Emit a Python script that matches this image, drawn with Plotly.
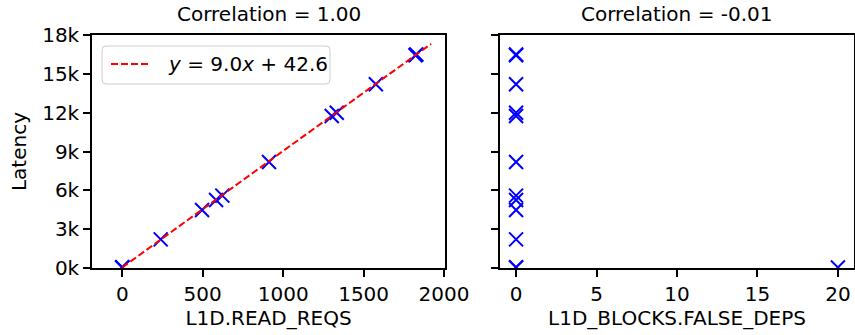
import plotly.graph_objects as go

# Event counts and measured latency for each run
read_reqs = [0, 0, 0, 239, 496, 583, 622, 912, 1302, 1333, 1576, 1822, 1828]
false_deps = [0, 0, 20, 0, 0, 0, 0, 0, 0, 0, 0, 0, 0]
latency = [40, 55, 45, 2210, 4480, 5250, 5590, 8190, 11740, 12000, 14190, 16440, 16490]

# Linear fit reported in the legend
slope = 9.0
intercept = 42.6
fit_x = [0, 1.05 * max(read_reqs)]
fit_y = [slope * v + intercept for v in fit_x]

y_ticks = [0, 3000, 6000, 9000, 12000, 15000, 18000]
y_labels = ["0k", "3k", "6k", "9k", "12k", "15k", "18k"]
x1_ticks = [0, 500, 1000, 1500, 2000]
x2_ticks = [0, 5, 10, 15, 20]

titles = ["Correlation = 1.00", "Correlation = -0.01"]

FONT = "DejaVu Sans"
BLUE = "#0000ff"
W, H = 855, 335
M = dict(l=92, r=1, t=35, b=67)
PW, PH = W - M["l"] - M["r"], H - M["t"] - M["b"]
DOM1 = [0, 0.4633]
DOM2 = [0.5354, 1]


def px_x(p):
    return (p - M["l"]) / PW


def px_y(p):
    return (H - M["b"] - p) / PH


fig = go.Figure()

marker = dict(symbol="x-thin", size=14, color=BLUE, line=dict(color=BLUE, width=2))
fit_line = dict(color="red", width=2, dash="7px,3px")

fig.add_trace(go.Scatter(x=read_reqs, y=latency, mode="markers", marker=marker,
                         showlegend=False, xaxis="x", yaxis="y"))
fig.add_trace(go.Scatter(x=fit_x, y=fit_y, mode="lines", line=fit_line,
                         showlegend=False, xaxis="x", yaxis="y"))
fig.add_trace(go.Scatter(x=false_deps, y=latency, mode="markers", marker=marker,
                         showlegend=False, xaxis="x2", yaxis="y2"))

axis_common = dict(showline=True, mirror=True, linecolor="black", linewidth=1.6,
                   ticks="outside", ticklen=7, tickwidth=1.6, tickcolor="black",
                   showgrid=False, zeroline=False, automargin=False,
                   tickfont=dict(family=FONT, size=20, color="black"))

fig.update_layout(
    width=W, height=H,
    margin=M,
    paper_bgcolor="white", plot_bgcolor="white",
    font=dict(family=FONT, size=20, color="black"),
    xaxis=dict(domain=DOM1, range=[-188, 2006], tickvals=x1_ticks,
               title=dict(text="L1D.READ_REQS", standoff=6,
                          font=dict(family=FONT, size=20)),
               anchor="y", **axis_common),
    xaxis2=dict(domain=DOM2, range=[-1, 21], tickvals=x2_ticks,
                title=dict(text="L1D_BLOCKS.FALSE_DEPS", standoff=6,
                           font=dict(family=FONT, size=20)),
                anchor="y2", **axis_common),
    yaxis=dict(range=[0, 18000], tickvals=y_ticks, ticktext=y_labels,
               title=dict(text="Latency", standoff=10, font=dict(family=FONT, size=20)),
               anchor="x", **axis_common),
    yaxis2=dict(range=[0, 18000], tickvals=y_ticks, showticklabels=False,
                anchor="x2", matches="y", **axis_common),
)

# Subplot titles
for txt, dom in zip(titles, [DOM1, DOM2]):
    fig.add_annotation(text=txt, x=(dom[0] + dom[1]) / 2, y=1, xref="paper", yref="paper",
                       xanchor="center", yanchor="bottom", yshift=7, showarrow=False,
                       font=dict(family=FONT, size=20, color="black"))

# Legend box for the fit line (rounded frame, dashed sample, label)
x0, x1, y0, y1, r = px_x(102), px_x(330), px_y(84), px_y(46), 4
rx, ry = r / PW, r / PH
path = (f"M {x0 + rx},{y0} L {x1 - rx},{y0} Q {x1},{y0} {x1},{y0 + ry} "
        f"L {x1},{y1 - ry} Q {x1},{y1} {x1 - rx},{y1} L {x0 + rx},{y1} "
        f"Q {x0},{y1} {x0},{y1 - ry} L {x0},{y0 + ry} Q {x0},{y0} {x0 + rx},{y0} Z")
fig.add_shape(type="path", path=path, xref="paper", yref="paper",
              fillcolor="rgba(255,255,255,0.8)", line=dict(color="#cccccc", width=1))
fig.add_shape(type="line", xref="paper", yref="paper",
              x0=px_x(111), x1=px_x(151), y0=px_y(64), y1=px_y(64), line=fit_line)
fig.add_annotation(text=f"<i>y</i> = {slope:.1f}<i>x</i> + {intercept:.1f}",
                   x=px_x(166), y=px_y(64), xref="paper", yref="paper",
                   xanchor="left", yanchor="middle", showarrow=False,
                   font=dict(family=FONT, size=20, color="black"))

fig.write_html("out.html")
